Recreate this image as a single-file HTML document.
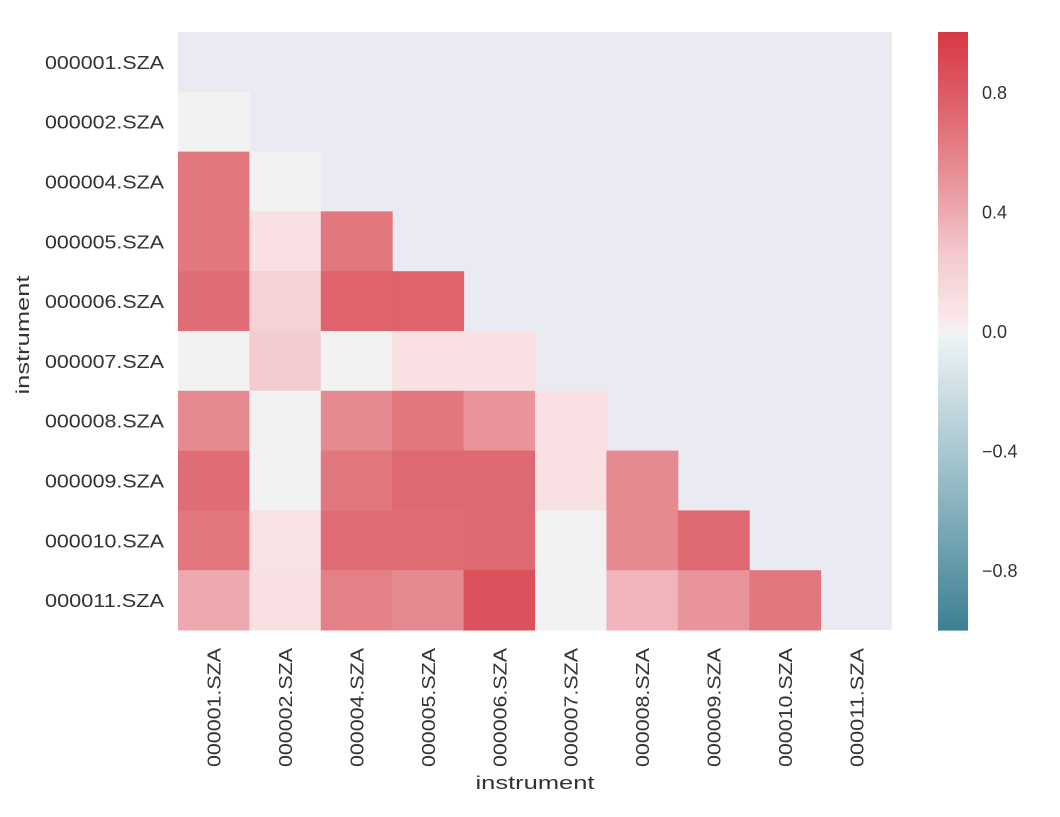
<!DOCTYPE html>
<html><head><meta charset="utf-8"><style>
body{margin:0;background:#fff;}
svg text{font-family:"Liberation Sans",sans-serif;fill:#333;}
</style></head><body>
<svg id="chart" width="1060" height="812" xmlns="http://www.w3.org/2000/svg"></svg>
<script>
const labels = ["000001.SZA","000002.SZA","000004.SZA","000005.SZA","000006.SZA","000007.SZA","000008.SZA","000009.SZA","000010.SZA","000011.SZA"];
const row1 = [];
const row2 = [0.0];
const row4 = [0.65,0.0];
const row5 = [0.65,0.1,0.65];
const row6 = [0.7,0.2,0.75,0.75];
const row7 = [0.0,0.25,0.0,0.1,0.1];
const row8 = [0.55,0.0,0.55,0.65,0.5,0.1];
const row9 = [0.7,0.0,0.65,0.72,0.72,0.1,0.55];
const row10 = [0.65,0.08,0.7,0.7,0.72,0.0,0.55,0.72];
const row11 = [0.4,0.1,0.6,0.55,0.85,0.0,0.35,0.5,0.65];
const rows = [row1,row2,row4,row5,row6,row7,row8,row9,row10,row11];
const cbTicks = [0.8,0.4,0.0,-0.4,-0.8];
const cbTickLabels = ["0.8","0.4","0.0","\u22120.4","\u22120.8"];

const NS="http://www.w3.org/2000/svg";
const svg=document.getElementById('chart');
const X0=178,X1=892,Y0=32,Y1=630;
const n=labels.length, cw=(X1-X0)/n, ch=(Y1-Y0)/n;
function mk(t,a){const e=document.createElementNS(NS,t);for(const k in a)e.setAttribute(k,a[k]);svg.appendChild(e);return e;}
const posStops=[[0,[242,242,242]],[0.04,[250,232,234]],[0.25,[243,203,208]],[0.5,[232,148,154]],[0.75,[222,99,108]],[1,[215,55,68]]];
const negStops=[[0,[242,242,242]],[0.04,[233,241,244]],[0.5,[152,188,199]],[1,[61,127,147]]];
function color(v){
  const st=v>=0?posStops:negStops, t=Math.min(1,Math.abs(v));
  if(t<0.02) return 'rgb(242,242,242)';
  for(let i=1;i<st.length;i++){
    if(t<=st[i][0]){
      const a=st[i-1],b=st[i],f=(t-a[0])/(b[0]-a[0]);
      const c=a[1].map((x,k)=>Math.round(x+(b[1][k]-x)*f));
      return `rgb(${c[0]},${c[1]},${c[2]})`;
    }
  }
  const c=st[st.length-1][1];return `rgb(${c[0]},${c[1]},${c[2]})`;
}
const bg=mk('rect',{x:X0,y:Y0,width:X1-X0,height:Y1-Y0,fill:'#eaeaf2'});


rows.forEach((r,i)=>r.forEach((v,j)=>{
  const c=mk('rect',{x:X0+j*cw,y:Y0+i*ch,width:cw+0.5,height:ch+0.5,fill:color(v)});
  
  
}));
labels.forEach((l,i)=>{
  const t=mk('text',{x:164,y:Y0+(i+0.5)*ch+7,'text-anchor':'end','font-size':18,textLength:119,lengthAdjust:'spacingAndGlyphs'});
  t.textContent=l;
  
  
  const cx=X0+(i+0.5)*cw+7;
  const u=mk('text',{x:cx,y:648,'text-anchor':'end','font-size':18,textLength:119,lengthAdjust:'spacingAndGlyphs',transform:`rotate(-90 ${cx} 648)`});
  u.textContent=l;
  
  
});
const xt=mk('text',{x:535,y:789,'text-anchor':'middle','font-size':18,textLength:119,lengthAdjust:'spacingAndGlyphs'});
xt.textContent='instrument';


const yt=mk('text',{x:29,y:335,'text-anchor':'middle','font-size':18,textLength:119,lengthAdjust:'spacingAndGlyphs',transform:'rotate(-90 29 335)'});
yt.textContent='instrument';


const CX=938,CW=30;
const N=150;
for(let k=0;k<N;k++){
  const v=1-2*(k+0.5)/N;
  const r=mk('rect',{x:CX,y:Y0+k*(Y1-Y0)/N,width:CW,height:(Y1-Y0)/N+0.6,fill:color(v)});
  
  
}
function cy(v){return Y0+(1-v)/2*(Y1-Y0);}
cbTicks.forEach((v,i)=>{
  const t=mk('text',{x:982,y:cy(v)+7,'font-size':18});
  t.textContent=cbTickLabels[i];
  
  
});
</script>
</body></html>
